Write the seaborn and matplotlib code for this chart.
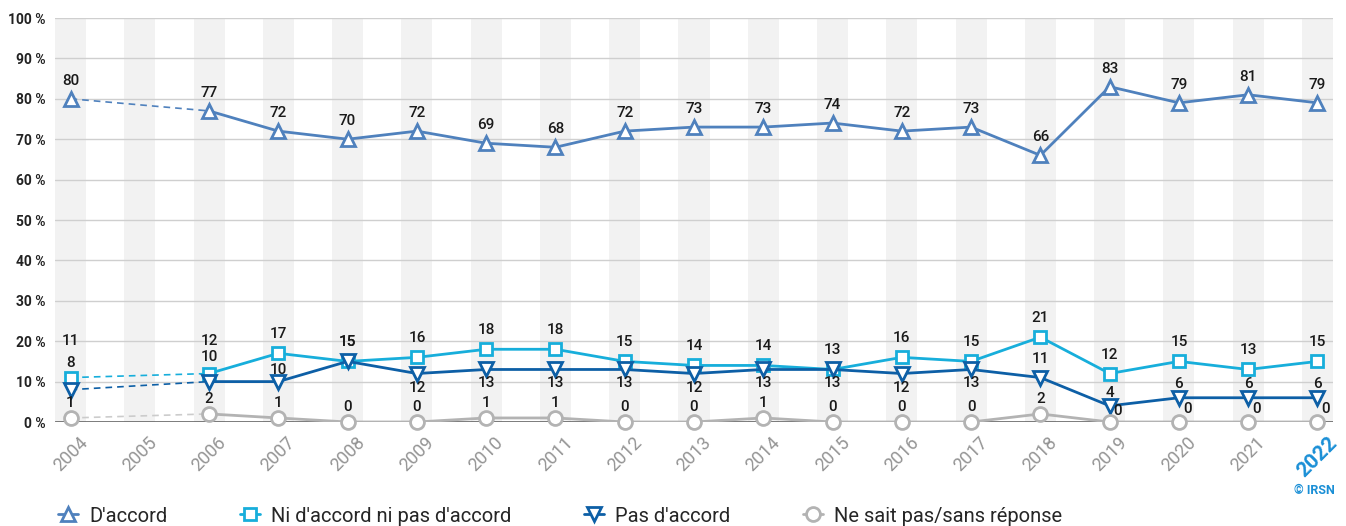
import numpy as np
import pandas as pd
import matplotlib
matplotlib.use("Agg")
from matplotlib import pyplot as plt
from matplotlib.lines import Line2D
import seaborn as sns

# Data (2005: no survey)
years = list(range(2004, 2023))
accord = [80, np.nan, 77, 72, 70, 72, 69, 68, 72, 73, 73, 74, 72, 73, 66, 83, 79, 81, 79]
ni_ni = [11, np.nan, 12, 17, 15, 16, 18, 18, 15, 14, 14, 13, 16, 15, 21, 12, 15, 13, 15]
pas_accord = [8, np.nan, 10, 10, 15, 12, 13, 13, 13, 12, 13, 13, 12, 13, 11, 4, 6, 6, 6]
nsp = [1, np.nan, 2, 1, 0, 0, 1, 1, 0, 0, 1, 0, 0, 0, 2, 0, 0, 0, 0]
series_names = ["D'accord", "Ni d'accord ni pas d'accord", "Pas d'accord",
                "Ne sait pas/sans réponse"]

sns.set_theme(style="white")
plt.rcParams["font.family"] = ["Roboto", "DejaVu Sans"]

colors = ["#4f81bd", "#17aedb", "#0d5fa6", "#b3b3b3"]
dash_colors = ["#4f81bd", "#17aedb", "#0d5fa6", "#cccccc"]
markers = ["^", "s", "v", "o"]
values = [accord, ni_ni, pas_accord, nsp]

fig = plt.figure(figsize=(13.46, 5.26), dpi=100)
ax = fig.add_axes([55 / 1346, 104 / 526, 1278 / 1346, 404 / 526])

x = np.arange(len(years))
half = 0.224
for i in x:
    ax.axvspan(i - half, i + half, color="#f2f2f2", lw=0, zorder=0)
for g in range(10, 101, 10):
    ax.axhline(g, color="#cfcfcf", lw=1, zorder=1)
ax.axhline(0, color="#555555", lw=1.8, zorder=2)

# label placement: (dx px, dy px, ha, va) per series, with per-year overrides
lab_default = [(0, 11, "center", "bottom"), (0, 12, "center", "bottom"),
               (0, -7, "center", "top"), (0, 8, "center", "bottom")]
lab_override = {
    1: {2004: (0, 30, "center", "bottom"), 2006: (0, 26, "center", "bottom")},
    2: {2004: (0, 20, "center", "bottom"), 2006: (0, 18, "center", "bottom"),
        2007: (0, 5, "center", "bottom"), 2008: (0, 12, "center", "bottom"),
        2018: (0, 12, "center", "bottom"), 2019: (0, 6, "center", "bottom"),
        2020: (0, 7, "center", "bottom"), 2021: (0, 7, "center", "bottom"),
        2022: (0, 7, "center", "bottom")},
    3: {2019: (4, 4, "left", "bottom"), 2020: (4, 6, "left", "bottom"),
        2021: (4, 6, "left", "bottom"), 2022: (4, 6, "left", "bottom")},
}

px = 72 / 100
for k, (vals, name) in enumerate(zip(values, series_names)):
    df = pd.DataFrame({"x": x, "v": vals})
    solid = df[df["x"] >= 2]
    dashed = df[df["x"].isin([0, 2])]
    sns.lineplot(data=dashed, x="x", y="v", ax=ax, color=dash_colors[k], lw=1.2,
                 linestyle=(0, (4, 3)), zorder=3 + k)
    sns.lineplot(data=solid, x="x", y="v", ax=ax, color=colors[k], lw=2,
                 zorder=3 + k)
    pts = df.dropna()
    ax.plot(pts["x"], pts["v"], linestyle="none", marker=markers[k],
            markersize=10 if k != 1 else 9, markerfacecolor="white",
            markeredgecolor=colors[k], markeredgewidth=2, zorder=3 + k,
            clip_on=False)
    for xi, yr, v in zip(x, years, vals):
        if np.isnan(v):
            continue
        dx, dy, ha, va = lab_override.get(k, {}).get(yr, lab_default[k])
        ax.annotate(f"{v:.0f}", (xi, v), xytext=(dx * px, dy * px),
                    textcoords="offset points", ha=ha, va=va, fontsize=11,
                    color="#1a1a1a", fontweight="medium", zorder=10)

ax.set_xlim(-half, len(years) - 1 + half)
ax.set_ylim(0, 100)
ax.set_xlabel("")
ax.set_ylabel("")
for s in ax.spines.values():
    s.set_visible(False)

ax.set_yticks(range(0, 101, 10))
ax.set_yticklabels([f"{t} %" for t in range(0, 101, 10)], fontsize=10,
                   fontweight="bold", color="#222222")
ax.tick_params(axis="y", length=0, pad=7)
ax.set_xticks(x)
ax.set_xticklabels([str(y) for y in years], rotation=45, ha="center",
                   va="top", fontsize=13, color="#949494")
ax.tick_params(axis="x", length=0, pad=8)
last = ax.get_xticklabels()[-1]
last.set_color("#1a8fd6")
last.set_fontweight("bold")
last.set_fontsize(15)

handles = [Line2D([0], [0], color=colors[k], lw=2, marker=markers[k],
                  markersize=10 if k != 1 else 9, markerfacecolor="white",
                  markeredgecolor=colors[k], markeredgewidth=2)
           for k in range(4)]
fig.legend(handles, series_names, loc="center left",
           bbox_to_anchor=(58 / 1346, 10 / 526), ncol=4, frameon=False,
           fontsize=14.5, handlelength=1.0, handletextpad=0.55,
           columnspacing=3.6, borderpad=0, borderaxespad=0)

fig.text(1335 / 1346, 35 / 526, "© IRSN", ha="right", va="center",
         fontsize=9, fontweight="bold", color="#1a8fd6")

fig.savefig("out.png", dpi=100)
